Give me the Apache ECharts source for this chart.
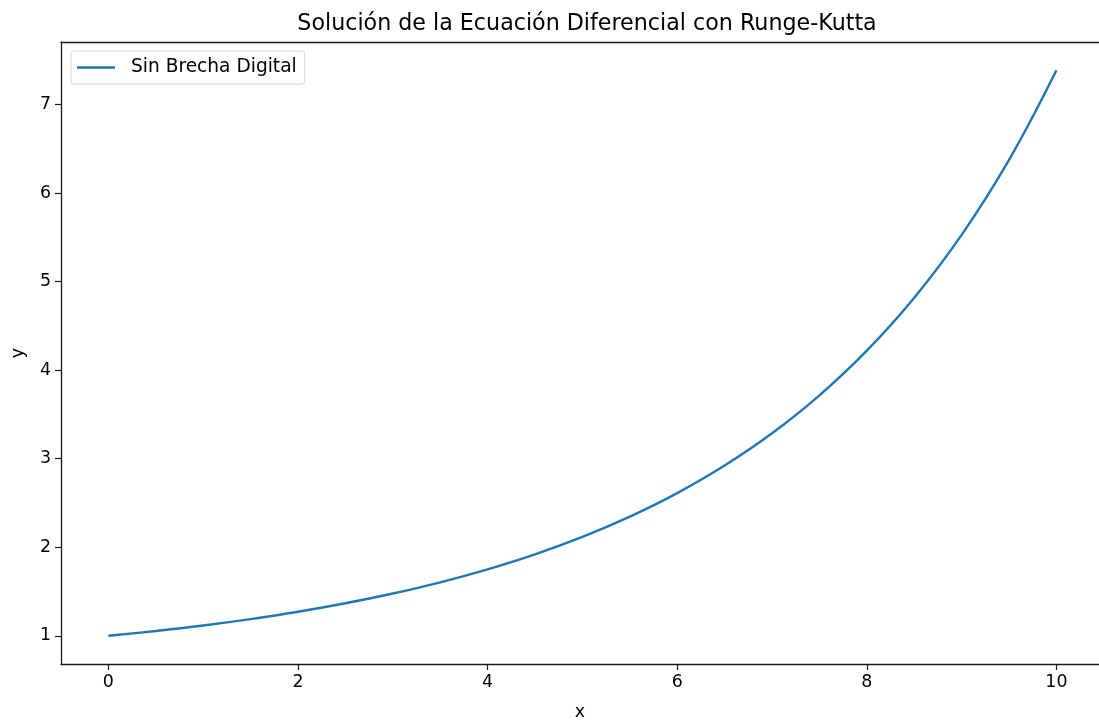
<!DOCTYPE html>
<html>
<head>
<meta charset="utf-8">
<script src="https://cdn.jsdelivr.net/npm/echarts@6/dist/echarts.min.js"></script>
<style>html,body{margin:0;padding:0;background:#fff;}#c{width:1099px;height:722px;}</style>
</head>
<body>
<div id="c"></div>
<script>
const xValues = [0, 0.5, 1, 1.5, 2, 2.5, 3, 3.5, 4, 4.5, 5, 5.5, 6, 6.5, 7, 7.5, 8, 8.5, 9, 9.5, 10];
const yValues = [1.000, 1.054, 1.116, 1.188, 1.271, 1.367, 1.477, 1.604, 1.751, 1.920, 2.117, 2.346, 2.612, 2.923, 3.287, 3.716, 4.221, 4.819, 5.529, 6.376, 7.389];
const xTicks = [0, 2, 4, 6, 8, 10];
const yTicks = [1, 2, 3, 4, 5, 6, 7];
const seriesName = 'Sin Brecha Digital';
const titleText = 'Solución de la Ecuación Diferencial con Runge-Kutta';

const font = 'DejaVu Sans';
const spine = '#1a1a1a';
const chart = echarts.init(document.getElementById('c'), null, {renderer: 'canvas'});
chart.setOption({
  animation: false,
  backgroundColor: '#fff',
  title: {
    text: titleText, left: 582, top: 8, textAlign: 'center',
    textStyle: {fontFamily: font, fontSize: 22.2, fontWeight: 'normal', color: '#000'}
  },
  legend: {
    left: 71, top: 51, padding: [7, 8, 7, 6],
    itemWidth: 38, itemHeight: 19,
    borderColor: '#d6d6d6', borderWidth: 1, borderRadius: 3,
    backgroundColor: 'rgba(255,255,255,0.8)',
    textStyle: {fontFamily: font, fontSize: 18.6, color: '#000', padding: [0, 0, 0, 11]},
    data: [{name: seriesName, icon: 'path://M0,0 L38,0 L38,2.4 L0,2.4 Z', itemStyle: {color: '#1f77b4'}}]
  },
  grid: {left: 61, top: 42, width: 1038, height: 622, show: false, containLabel: false, outerBoundsMode: 'none'},
  xAxis: [{
    type: 'value', min: -0.5, max: 10.449,
    name: 'x', nameLocation: 'middle', nameGap: 40,
    nameTextStyle: {fontFamily: font, fontSize: 17.4, color: '#000'},
    axisLine: {show: true, onZero: false, lineStyle: {color: spine, width: 1.3}},
    axisTick: {show: true, length: 6, inside: false, customValues: xTicks, lineStyle: {color: spine, width: 1.2}},
    axisLabel: {customValues: xTicks, margin: 10, fontFamily: font, fontSize: 17.4, color: '#000'},
    splitLine: {show: false}
  }, {
    type: 'value', position: 'top', min: -0.5, max: 10.449,
    axisLine: {show: true, onZero: false, lineStyle: {color: spine, width: 1.3}},
    axisTick: {show: false}, axisLabel: {show: false}, splitLine: {show: false}
  }],
  yAxis: {
    type: 'value', min: 0.681, max: 7.708,
    name: 'y', nameLocation: 'middle', nameGap: 34,
    nameTextStyle: {fontFamily: font, fontSize: 17.4, color: '#000'},
    axisLine: {show: true, onZero: false, lineStyle: {color: spine, width: 1.3}},
    axisTick: {show: true, length: 6, customValues: yTicks, lineStyle: {color: spine, width: 1.2}},
    axisLabel: {customValues: yTicks, margin: 10, fontFamily: font, fontSize: 17.4, color: '#000'},
    splitLine: {show: false}
  },
  series: [{
    name: seriesName, type: 'line', smooth: 0.4, symbol: 'none', xAxisIndex: 0,
    lineStyle: {color: '#1f77b4', width: 2.4},
    itemStyle: {color: '#1f77b4'},
    data: xValues.map((x, i) => [x, yValues[i]])
  }]
});
</script>
</body>
</html>
